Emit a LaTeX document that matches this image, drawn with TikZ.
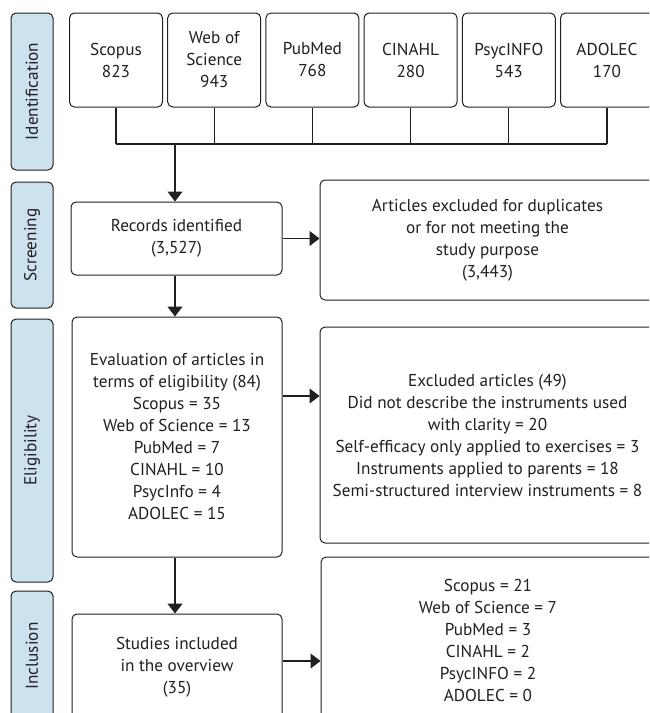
\documentclass[tikz,border=0pt]{standalone}
\usepackage{fontspec}
\setmainfont{PT Sans}
\usetikzlibrary{arrows.meta,calc}
\definecolor{lblue}{HTML}{CCE2EF}
\definecolor{ink}{HTML}{231F20}
\tikzset{
  box/.style={draw=ink, line width=1pt, rounded corners=5pt, fill=white, align=center,
    text=ink, font=\fontsize{17.2}{22}\selectfont, inner sep=0pt},
  phase/.style={draw=ink, line width=1pt, rounded corners=5pt, fill=lblue, rotate=90,
    minimum height=42pt, text=ink, font=\fontsize{17.2}{20}\selectfont, inner sep=0pt},
  conn/.style={draw=ink, line width=1.2pt},
  arr/.style={draw=ink, line width=1.2pt, -{Triangle[length=10pt,width=15pt]}}
}
\begin{document}
\begin{tikzpicture}[x=1pt,y=-1pt]
\useasboundingbox (0,0) rectangle (649,713);
\clip (0,0) rectangle (649,713);
% phases
\node[phase, minimum width=157pt] (pid) at (32,91.5) {Identification};
\node[phase, minimum width=126pt] (psc) at (32,245) {Screening};
\node[phase, minimum width=263pt] (pel) at (32,450.5) {Eligibility};
\node[phase, minimum width=130pt] (pin) at (32,656) {Inclusion};
% sources
\foreach \i/\t [count=\k from 0] in {s1/{Scopus\\823},s2/{Web of\\Science\\943},s3/{PubMed\\768},s4/{CINAHL\\280},s5/{PsycINFO\\543},s6/{ADOLEC\\170}}{
  \node[box, minimum width=93pt, minimum height=94pt] (\i) at ({116+98.2*\k},60) {\t};
}
\coordinate (bus) at (0,144);
\foreach \i in {s1,s2,s3,s4,s5,s6}{ \draw[conn] (\i.south) -- (\i.south |- bus); }
\draw[conn] (s1.south |- bus) -- (s6.south |- bus);
% main column
\node[box, minimum width=211pt, minimum height=73pt] (rec) at (176.5,238.5) {Records identified\\(3,527)};
\node[box, minimum width=210pt, minimum height=240pt] (eval) at (177,437) {Evaluation of articles in\\terms of eligibility (84)\\Scopus = 35\\Web of Science = 13\\PubMed = 7\\CINAHL = 10\\PsycInfo = 4\\ADOLEC = 15};
\node[box, minimum width=210pt, minimum height=106pt] (stud) at (177,667) {Studies included\\in the overview\\(35)};
% right column
\node[box, minimum width=335pt, minimum height=120pt] (ex1) at (487.5,240) {Articles excluded for duplicates\\or for not meeting the\\study purpose\\(3,443)};
\node[box, minimum width=335pt, minimum height=216pt] (ex2) at (487.5,435) {Excluded articles (49)\\Did not describe the instruments used\\with clarity = 20\\Self-efficacy only applied to exercises = 3\\Instruments applied to parents = 18\\Semi-structured interview instruments = 8};
\node[box, minimum width=334pt, minimum height=166pt] (ex3) at (488,640) {Scopus = 21\\Web of Science = 7\\PubMed = 3\\CINAHL = 2\\PsycINFO = 2\\ADOLEC = 0};
% arrows
\coordinate (top) at (175,144);
\draw[arr] (top) -- (top |- rec.north);
\draw[arr] (rec.south -| top) -- (eval.north -| top);
\draw[arr] (eval.south -| top) -- (stud.north -| top);
\draw[arr] (rec.east) -- (ex1.west |- rec.east);
\coordinate (a2) at (0,396);
\draw[arr] (eval.east |- a2) -- (ex2.west |- a2);
\coordinate (a3) at (0,661);
\draw[arr] (stud.east |- a3) -- (ex3.west |- a3);
\end{tikzpicture}
\end{document}
